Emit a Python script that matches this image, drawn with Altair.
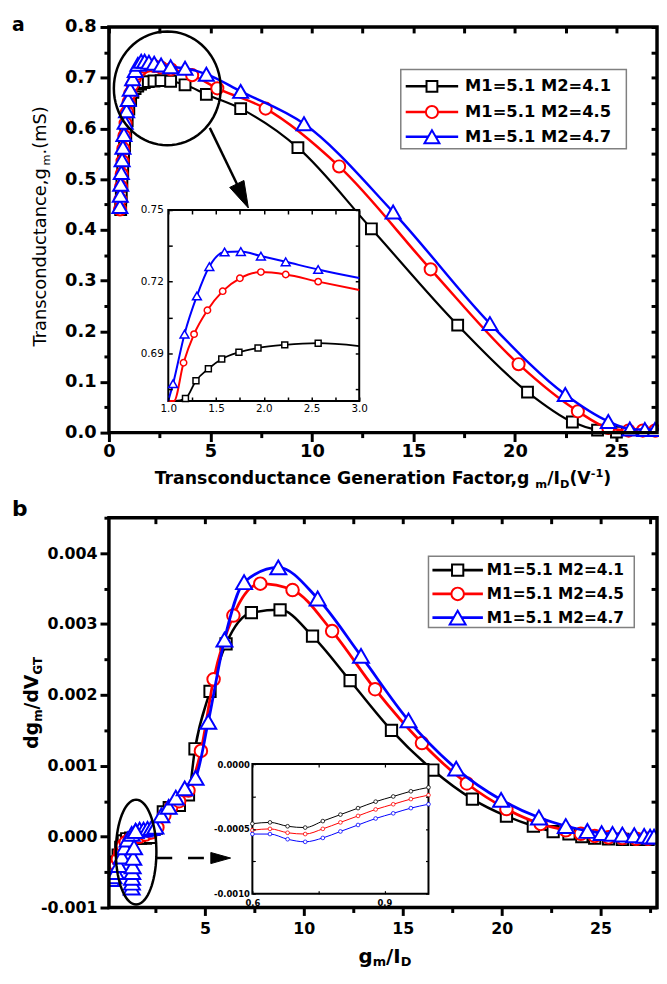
import math
import altair as alt
import pandas as pd

FONT = "DejaVu Sans"
NAMES = ["M1=5.1 M2=4.1", "M1=5.1 M2=4.5", "M1=5.1 M2=4.7"]
COLORS = ["#000000", "#ff0000", "#0000ff"]
SHAPES = ["square", "circle", "triangle-up"]

# ---------------- panel a : transconductance vs gm/ID ----------------
a_black_x = [0.58, 0.61, 0.64, 0.68, 0.72, 0.77, 0.83, 0.90, 0.98, 1.07, 1.18, 1.29, 1.42, 1.56, 1.74,
             1.94, 2.22, 2.57, 3.04, 3.75, 4.80, 6.49, 9.31, 12.93, 17.18, 20.62, 22.83, 24.07, 25.0]
a_black_y = [0.440, 0.465, 0.490, 0.515, 0.540, 0.565, 0.590, 0.615, 0.638, 0.657, 0.671, 0.6785, 0.6835,
             0.6876, 0.6904, 0.6922, 0.6935, 0.6942, 0.6930, 0.686, 0.667, 0.639, 0.562, 0.402, 0.212,
             0.080, 0.021, 0.005, 0.001]
a_red_x = [0.55, 0.57, 0.60, 0.63, 0.67, 0.71, 0.76, 0.82, 0.89, 0.97, 1.06, 1.16, 1.27, 1.41, 1.57, 1.75,
           1.97, 2.23, 2.57, 3.05, 4.10, 5.34, 7.72, 11.34, 15.85, 20.18, 23.10, 24.60, 25.60, 26.30, 26.90]
a_red_y = [0.440, 0.460, 0.485, 0.510, 0.535, 0.560, 0.585, 0.610, 0.632, 0.652, 0.6693, 0.686, 0.698,
           0.708, 0.716, 0.7214, 0.724, 0.723, 0.720, 0.7165, 0.705, 0.679, 0.639, 0.525, 0.322, 0.135,
           0.042, 0.009, 0.004, 0.004, 0.004]
a_blue_x = [0.54, 0.56, 0.58, 0.61, 0.65, 0.69, 0.74, 0.80, 0.87, 0.95, 1.05, 1.17, 1.30, 1.43, 1.59, 1.76,
            1.97, 2.23, 2.57, 3.04, 3.75, 4.80, 6.49, 9.61, 14.00, 18.77, 22.48, 24.60, 25.66, 26.40, 26.90]
a_blue_y = [0.446, 0.468, 0.490, 0.513, 0.538, 0.563, 0.588, 0.612, 0.635, 0.657, 0.6772, 0.698, 0.714,
            0.7263, 0.7324, 0.7326, 0.7307, 0.7283, 0.7251, 0.7215, 0.7185, 0.707, 0.673, 0.609, 0.435,
            0.215, 0.075, 0.022, 0.007, 0.006, 0.006]

a_xticks = [0, 2.5, 5, 7.5, 10, 12.5, 15, 17.5, 20, 22.5, 25]
a_yticks = [0.0, 0.05, 0.1, 0.15, 0.2, 0.25, 0.3, 0.35, 0.4, 0.45, 0.5, 0.55, 0.6, 0.65, 0.7, 0.75, 0.8]
ia_xticks = [1.0, 1.25, 1.5, 1.75, 2.0, 2.25, 2.5, 2.75, 3.0]
ia_yticks = [0.675, 0.69, 0.705, 0.72, 0.735, 0.75]

# ---------------- panel b : dgm/dVGT vs gm/ID ----------------
b_black_x = [0.22, 0.30, 0.40, 0.50, 0.62, 0.75, 0.88, 1.05, 1.25, 1.50, 1.75, 2.00, 2.25, 2.55, 2.90, 3.20,
             3.71, 4.17, 4.50, 5.26, 6.07, 7.35, 8.80, 10.44, 12.34, 14.43, 16.52, 18.52, 20.24, 21.60,
             22.60, 23.40, 24.05, 24.70, 25.40, 26.10, 26.80, 27.40]
b_black_y = [-0.00050, -0.00048, -0.00043, -0.00036, -0.00026, -0.00015, -0.00006, -0.00003, -0.00002,
             -0.00002, -0.00002, -0.00002, -0.00001, 0.00012, 0.00035, 0.00041, 0.00044, 0.00059, 0.00124,
             0.00205, 0.00272, 0.00316, 0.00320, 0.00283, 0.00220, 0.00150, 0.00094, 0.00053, 0.00029,
             0.00015, 0.00007, 0.00004, 0.0, -0.00002, -0.00003, -0.00004, -0.00004, -0.00004]
b_red_x = [0.22, 0.30, 0.40, 0.50, 0.60, 0.72, 0.85, 1.00, 1.20, 1.40, 1.70, 2.00, 2.30, 2.60, 2.95, 3.30,
           3.70, 4.17, 4.80, 5.44, 6.44, 7.80, 9.43, 11.43, 13.60, 15.97, 18.24, 20.24, 21.97, 23.24,
           24.00, 24.70, 25.40, 26.10, 26.80, 27.40]
b_red_y = [-0.00052, -0.00050, -0.00046, -0.00040, -0.00032, -0.00022, -0.00013, -0.00008, -0.00004,
           -0.00002, 0.00000, 0.00003, 0.00006, 0.00013, 0.00030, 0.00042, 0.00050, 0.00065, 0.00121,
           0.00222, 0.00312, 0.00357, 0.00348, 0.00290, 0.00208, 0.00132, 0.00075, 0.00039, 0.00018,
           0.00009, 0.00004, 0.00001, -0.00001, -0.00002, -0.00003, -0.00003]
b_blue_x = [0.27, 0.38, 0.50, 0.65, 0.80, 0.95, 1.10, 1.30, 1.50, 1.70, 1.90, 2.10, 2.30, 2.50, 2.80, 3.17,
            3.53, 3.98, 4.53, 5.17, 5.99, 6.98, 8.71, 10.70, 12.89, 15.29, 17.70, 19.97, 21.88, 23.24,
            24.33, 25.05, 25.60, 26.10, 26.70, 27.20, 27.50, 27.70]
b_blue_y = [-0.00060, -0.00056, -0.00050, -0.00040, -0.00028, -0.00015, -0.00004, 0.00004, 0.00008,
            0.00010, 0.00010, 0.00011, 0.00012, 0.00014, 0.00030, 0.00042, 0.00055, 0.00068, 0.00083,
            0.00162, 0.00278, 0.00359, 0.00380, 0.00336, 0.00255, 0.00164, 0.00096, 0.00052, 0.00027,
            0.00015, 0.00008, 0.00005, 0.00004, 0.00003, 0.00002, 0.00001, 0.00000, 0.00000]
b_blue_branch_x = [1.30, 1.31, 1.32, 1.33, 1.35, 1.38, 1.42, 1.50]
b_blue_branch_y = [-0.00072, -0.00065, -0.00058, -0.00050, -0.00042, -0.00030, -0.00015, 0.00008]

ib_x = [0.60, 0.64, 0.68, 0.72, 0.76, 0.80, 0.84, 0.88, 0.92, 0.96, 1.00]
ib_black = [-0.00046, -0.00045, -0.00048, -0.00049, -0.00044, -0.00039, -0.00034, -0.00029, -0.00025,
            -0.00021, -0.00018]
ib_red = [-0.00051, -0.00050, -0.00053, -0.00054, -0.00050, -0.00045, -0.00040, -0.00035, -0.00031,
          -0.00027, -0.00024]
ib_blue = [-0.00054, -0.00054, -0.00058, -0.00060, -0.00057, -0.00052, -0.00047, -0.00042, -0.00038,
           -0.00034, -0.00031]

b_xticks = [2.5, 5, 7.5, 10, 12.5, 15, 17.5, 20, 22.5, 25, 27.5]
b_yticks = [-0.001, -0.0005, 0.0, 0.0005, 0.001, 0.0015, 0.002, 0.0025, 0.003, 0.0035, 0.004, 0.0045]
ib_xticks = [0.6, 0.75, 0.9]
ib_yticks = [-0.001, -0.00075, -0.0005, -0.00025, 0.0]

# ---------------- layout (pixels, relative to the plotting origin) ----------------
W = 554            # plot width of both panels
HA = 410           # panel a height
B0, B1 = 496, 890  # panel b top / bottom
H = B1

# ---------------- helpers ----------------
ONE = pd.DataFrame({"o": [0]})

W_BOLD = {" ": 348, "(": 457, ")": 457, ",": 380, "-": 415, ".": 380, "/": 365, "0": 696, "1": 696,
          "D": 830, "F": 683, "G": 821, "I": 372, "T": 682, "V": 774, "a": 675, "b": 716, "c": 593,
          "d": 716, "e": 678, "g": 716, "i": 343, "m": 1042, "n": 712, "o": 687, "r": 493, "s": 595,
          "t": 478, "u": 712}
W_REG = {" ": 318, "(": 390, ")": 390, ",": 318, ".": 318, "/": 337, "M": 863, "S": 635, "T": 611,
         "a": 613, "c": 550, "d": 635, "e": 615, "g": 635, "m": 974, "n": 634, "o": 612, "r": 411,
         "s": 521, "t": 392, "u": 634}


def tw(text, size, bold):
    table = W_BOLD if bold else W_REG
    return sum(table.get(ch, 620) for ch in text) * size / 1000.0


def text_layer(text, x, y, size, bold=True, angle=0, align="left", baseline="alphabetic"):
    return alt.Chart(ONE).mark_text(
        text=text, align=align, baseline=baseline, font=FONT, fontSize=size,
        fontWeight="bold" if bold else "normal", angle=angle, color="black"
    ).encode(x=alt.value(x), y=alt.value(y))


def htitle(pieces, cx, by, bold):
    total = sum(tw(t, s, bold) for t, s, _ in pieces)
    x = cx - total / 2
    out = []
    for t, s, dy in pieces:
        out.append(text_layer(t, x, by + dy, s, bold))
        x += tw(t, s, bold)
    return out


def vtitle(pieces, bx, cy, bold):
    total = sum(tw(t, s, bold) for t, s, _ in pieces)
    y = cy + total / 2
    out = []
    for t, s, dx in pieces:
        out.append(text_layer(t, bx + dx, y, s, bold, angle=270))
        y -= tw(t, s, bold)
    return out


def axis(orient, values, expr=None, test=None, major=9, minor=5, size=18, bold=True, pad=3,
         twidth=3, offset=0, z=0):
    kw = dict(orient=orient, values=values, title=None, grid=False, tickColor="black",
              tickWidth=twidth, offset=offset, zindex=z, labelFlush=False, labelOverlap=False,
              minExtent=0, maxExtent=300, domain=False)
    if expr is None:
        kw["labels"] = False
    else:
        kw.update(labelExpr=expr, labelFont=FONT, labelFontSize=size,
                  labelFontWeight="bold" if bold else "normal", labelColor="black", labelPadding=pad)
    if test:
        kw["tickSize"] = {"condition": {"test": test, "value": major}, "value": minor}
    else:
        kw["tickSize"] = major
    return alt.Axis(**kw)


def build_df(xs_list, ys_list, extra=()):
    rows = []
    for k, (xs, ys) in enumerate(zip(xs_list, ys_list)):
        for x, y in zip(xs, ys):
            rows.append({"k": k, "x": x, "y": y, "seg": "main"})
    for k, xs, ys in extra:
        for x, y in zip(xs, ys):
            rows.append({"k": k, "x": x, "y": y, "seg": "branch"})
    return pd.DataFrame(rows)


def series_layers(df, xsc, ysc, sizes, lws, sw, shapes=SHAPES, axes_line=(None, None),
                  axes_pt=(None, None), lfilter=None, pfilter=None, clip=False):
    layers = []
    for k in range(3):
        base = alt.Chart(df).transform_filter(alt.datum.k == k)
        ln = base.transform_filter(lfilter) if lfilter else base
        ax_x, ax_y = axes_line if k == 0 else (None, None)
        layers.append(ln.mark_line(color=COLORS[k], strokeWidth=lws[k], interpolate="monotone",
                                   clip=clip).encode(
            x=alt.X("x:Q", scale=xsc, axis=ax_x), y=alt.Y("y:Q", scale=ysc, axis=ax_y), detail="seg:N"))
        pt = base.transform_filter(pfilter) if pfilter else base
        px_, py_ = axes_pt if k == 0 else (None, None)
        layers.append(pt.mark_point(shape=shapes[k], filled=True, fill="white", stroke=COLORS[k],
                                    strokeWidth=sw, size=sizes[k], opacity=1, clip=clip).encode(
            x=alt.X("x:Q", scale=xsc, axis=px_), y=alt.Y("y:Q", scale=ysc, axis=py_)))
    return layers


def ellipse_path(ratio, n=72):
    pts = []
    for i in range(n):
        t = 2 * math.pi * i / n
        pts.append(f"{ratio * math.cos(t):.4f},{math.sin(t):.4f}")
    return "M" + " L".join(pts) + " Z"


def legend_layers(box, ys, lx0, lx1, tx, fs, sizes, lw, sw):
    x0, x1, y0, y1 = box
    out = [alt.Chart(ONE).mark_rect(fill="white", stroke="#808080", strokeWidth=1.5).encode(
        x=alt.value(x0), x2=alt.value(x1), y=alt.value(y0), y2=alt.value(y1))]
    for k in range(3):
        yy = ys[k]
        out.append(alt.Chart(ONE).mark_rule(color=COLORS[k], strokeWidth=lw).encode(
            x=alt.value(lx0), x2=alt.value(lx1), y=alt.value(yy)))
        out.append(alt.Chart(ONE).mark_point(shape=SHAPES[k], filled=True, fill="white", stroke=COLORS[k],
                                             strokeWidth=sw, size=sizes[k], opacity=1).encode(
            x=alt.value((lx0 + lx1) / 2), y=alt.value(yy)))
        out.append(text_layer(NAMES[k], tx, yy, fs, True, baseline="middle"))
    return out


def pos(xsc, ysc):
    return dict(x=alt.X("x:Q", scale=xsc, axis=None), y=alt.Y("y:Q", scale=ysc, axis=None))


def frame(xsc, ysc, x0, x1, y0, y1, width):
    df = pd.DataFrame({"x": [x0], "x2": [x1], "y": [y0], "y2": [y1]})
    return alt.Chart(df).mark_rect(fill="transparent", stroke="black", strokeWidth=width).encode(
        **pos(xsc, ysc), x2=alt.X2("x2"), y2=alt.Y2("y2"))


# ======================= PANEL A =======================
xs_a = alt.Scale(domain=[0, 27], range=[0, W], nice=False, zero=False)
ys_a = alt.Scale(domain=[0, 0.8], range=[HA, 0], nice=False, zero=False)
df_a = build_df([a_black_x, a_red_x, a_blue_x], [a_black_y, a_red_y, a_blue_y])

ax_a_bottom = axis("bottom", a_xticks, expr="datum.value % 5 === 0 ? datum.label : ''",
                   test="datum.value % 5 === 0", major=9, minor=5, size=18, pad=1, offset=HA - H)
ax_a_left = axis("left", a_yticks,
                 expr="abs(datum.value*10 - round(datum.value*10)) < 0.000001 ? format(datum.value, '.1f') : ''",
                 test="abs(datum.value*10 - round(datum.value*10)) < 0.000001", major=9, minor=5, size=18, pad=4)
ax_a_top = axis("top", a_xticks, major=6, offset=-6)
ax_a_right = axis("right", a_yticks, major=6, offset=-6)

main_a = alt.layer(*series_layers(df_a, xs_a, ys_a, [120, 150, 230], [2.2, 2.5, 2.5], 2,
                                  axes_line=(ax_a_bottom, ax_a_left), axes_pt=(ax_a_top, ax_a_right))
                   ).resolve_axis(x="independent", y="independent")

# inset a (x 1..3, y 0.67..0.75)
IA_L, IA_R, IA_T, IA_B = 60, 253, 185, 378
xs_ia = alt.Scale(domain=[1, 3], range=[IA_L, IA_R], nice=False, zero=False, clamp=True)
ys_ia = alt.Scale(domain=[0.67, 0.75], range=[IA_B, IA_T], nice=False, zero=False, clamp=True)
T_IN = 4
ax_ia_bottom = axis("bottom", ia_xticks,
                    expr="abs(datum.value*2 - round(datum.value*2)) < 0.000001 ? format(datum.value, '.1f') : ''",
                    major=T_IN, size=10.5, bold=False, pad=3, twidth=1.5, offset=(IA_B - H) - T_IN, z=1)
ax_ia_left = axis("left", ia_yticks,
                  expr="abs(datum.value*100 - round(datum.value*100)) < 0.000001 && round(datum.value*100) % 3 === 0 ? format(datum.value, '.2f') : ''",
                  major=T_IN, size=10.5, bold=False, pad=5, twidth=1.5, offset=-(IA_L + T_IN), z=1)
ax_ia_top = axis("top", ia_xticks, major=T_IN, twidth=1.5, offset=-(IA_T + T_IN), z=1)
ax_ia_right = axis("right", ia_yticks, major=T_IN, twidth=1.5, offset=(IA_R - W) - T_IN, z=1)

inset_box_a = pd.DataFrame({"x": [1], "x2": [3], "y": [0.67], "y2": [0.75]})
inset_a = alt.layer(
    alt.Chart(inset_box_a).mark_rect(fill="white", stroke="black", strokeWidth=2).encode(
        x=alt.X("x:Q", scale=xs_ia, axis=ax_ia_bottom), x2=alt.X2("x2"),
        y=alt.Y("y:Q", scale=ys_ia, axis=ax_ia_left), y2=alt.Y2("y2")),
    *series_layers(df_a, xs_ia, ys_ia, [36, 42, 80], [1.8, 2, 2], 1.5,
                   axes_pt=(ax_ia_top, ax_ia_right),
                   lfilter="datum.x >= 0.9 && datum.x <= 3.1",
                   pfilter="datum.x >= 1 && datum.x <= 3 && datum.y >= 0.67 && datum.y <= 0.75")
).resolve_axis(x="independent", y="independent")

a_ell = pd.DataFrame({"x": [2.875], "y": [0.679]})
a_arrow = pd.DataFrame({"x": [4.97], "y": [0.601], "x2": [6.48], "y2": [0.476]})
a_head = pd.DataFrame({"x": [6.87], "y": [0.443]})
deco_a = alt.layer(
    frame(xs_a, ys_a, 0, 27, 0, 0.8, 3.5),
    alt.Chart(a_ell).mark_point(shape=ellipse_path(54 / 57.5), size=115 ** 2, filled=False,
                                stroke="black", strokeWidth=2.5, opacity=1).encode(**pos(xs_a, ys_a)),
    alt.Chart(a_arrow).mark_rule(color="black", strokeWidth=2.5).encode(
        **pos(xs_a, ys_a), x2=alt.X2("x2"), y2=alt.Y2("y2")),
    alt.Chart(a_head).mark_point(shape="M0,0 L-0.63,-0.693 L-0.15,-0.927 Z", size=3600, filled=True,
                                 fill="black", stroke="black", strokeWidth=1, opacity=1).encode(
        **pos(xs_a, ys_a)),
    *legend_layers((295, 523, 43, 123), [60, 86, 111], 300, 353, 360, 16.5, [120, 150, 230], 2.5, 2),
    text_layer("a", -98, 4, 19, True),
    *htitle([("Transconductance Generation Factor,g", 17.5, 0), ("m", 11.5, 4), ("/I", 17.5, 0),
             ("D", 11.5, 4), ("(V", 17.5, 0), ("-1", 11.5, -7), (")", 17.5, 0)], W / 2, 462, True),
    *vtitle([("Transconductance,g", 18, 0), ("m", 11.5, 4), (".(mS)", 18, 0)], -64, 201.5, False),
)

# ======================= PANEL B =======================
xs_b = alt.Scale(domain=[0.15, 27.85], range=[0, W], nice=False, zero=False)
ys_b = alt.Scale(domain=[-0.001, 0.0045], range=[B1, B0], nice=False, zero=False)
df_b = build_df([b_black_x, b_red_x, b_blue_x], [b_black_y, b_red_y, b_blue_y],
                extra=[(2, b_blue_branch_x, b_blue_branch_y)])

ax_b_bottom = axis("bottom", b_xticks, expr="datum.value % 5 === 0 ? datum.label : ''",
                   test="datum.value % 5 === 0", major=8, minor=5, size=16, pad=5)
ax_b_left = axis("left", b_yticks,
                 expr="abs(datum.value*1000 - round(datum.value*1000)) < 0.000001 ? replace(format(datum.value, '.3f'), '\u2212', '-') : ''",
                 test="abs(datum.value*1000 - round(datum.value*1000)) < 0.000001", major=9, minor=5,
                 size=16, pad=3)
ax_b_top = axis("top", b_xticks, major=6, offset=-(B0 + 6))
ax_b_right = axis("right", b_yticks, major=6, offset=-6)

main_b = alt.layer(*series_layers(df_b, xs_b, ys_b, [130, 160, 260], [2.5, 2.8, 2.8], 2,
                                  axes_line=(ax_b_bottom, ax_b_left), axes_pt=(ax_b_top, ax_b_right),
                                  clip=True)
                   ).resolve_axis(x="independent", y="independent")

# inset b (x 0.6..1.0, y -0.001..0)
IB_L, IB_R, IB_T, IB_B = 145, 323, B0 + 249, B0 + 380
xs_ib = alt.Scale(domain=[0.6, 1.0], range=[IB_L, IB_R], nice=False, zero=False)
ys_ib = alt.Scale(domain=[-0.001, 0.0], range=[IB_B, IB_T], nice=False, zero=False)
TB = 3
ax_ib_bottom = axis("bottom", ib_xticks,
                    expr="abs(datum.value - 0.75) < 0.000001 ? '' : format(datum.value, '.1f')",
                    major=TB, size=8.5, bold=True, pad=5, twidth=1.2, offset=(IB_B - H) - TB, z=1)
ax_ib_left = axis("left", ib_yticks,
                  expr="abs(datum.value*2000 - round(datum.value*2000)) < 0.000001 ? replace(format(datum.value, '.4f'), '\u2212', '-') : ''",
                  major=TB, size=8.5, bold=True, pad=3, twidth=1.2, offset=-(IB_L + TB), z=1)
ax_ib_top = axis("top", ib_xticks, major=TB, twidth=1.2, offset=-(IB_T + TB), z=1)
ax_ib_right = axis("right", ib_yticks, major=TB, twidth=1.2, offset=(IB_R - W) - TB, z=1)

df_ib = build_df([ib_x, ib_x, ib_x], [ib_black, ib_red, ib_blue])
inset_box_b = pd.DataFrame({"x": [0.6], "x2": [1.0], "y": [-0.001], "y2": [0.0]})
inset_b = alt.layer(
    alt.Chart(inset_box_b).mark_rect(fill="white", stroke="black", strokeWidth=2).encode(
        x=alt.X("x:Q", scale=xs_ib, axis=ax_ib_bottom), x2=alt.X2("x2"),
        y=alt.Y("y:Q", scale=ys_ib, axis=ax_ib_left), y2=alt.Y2("y2")),
    *series_layers(df_ib, xs_ib, ys_ib, [14, 14, 14], [1, 1, 1], 0.8,
                   shapes=["circle", "circle", "circle"], axes_pt=(ax_ib_top, ax_ib_right))
).resolve_axis(x="independent", y="independent")

b_ell = pd.DataFrame({"x": [1.525], "y": [-0.000218]})
b_arrow = pd.DataFrame({"x": [2.55], "y": [-0.000302], "x2": [5.3], "y2": [-0.000302]})
b_head = pd.DataFrame({"x": [6.3], "y": [-0.000302]})
deco_b = alt.layer(
    frame(xs_b, ys_b, 0.15, 27.85, -0.001, 0.0045, 3.5),
    alt.Chart(b_ell).mark_point(shape=ellipse_path(20.5 / 53), size=106 ** 2, filled=False,
                                stroke="black", strokeWidth=2.5, opacity=1).encode(**pos(xs_b, ys_b)),
    alt.Chart(b_arrow).mark_rule(color="black", strokeWidth=2.5, strokeDash=[16, 16]).encode(
        **pos(xs_b, ys_b), x2=alt.X2("x2"), y2=alt.Y2("y2")),
    alt.Chart(b_head).mark_point(shape="M0,0 L-1,-0.28 L-1,0.28 Z", size=1600, filled=True,
                                 fill="black", stroke="black", strokeWidth=1, opacity=1).encode(
        **pos(xs_b, ys_b)),
    *legend_layers((323, 531, B0 + 39, B0 + 111), [B0 + 53, B0 + 77, B0 + 101], 327, 378, 382, 15.5,
                   [130, 160, 260], 2.8, 2),
    text_layer("b", -98, B0 - 2, 22, True),
    *htitle([("g", 20, 0), ("m", 13, 3), ("/I", 20, 0), ("D", 13, 3)], 279, B0 + 450, True),
    *vtitle([("dg", 19, 0), ("m", 12, 4), ("/dV", 19, 0), ("GT", 12, 4)], -72, B0 + 187, True),
)

chart = alt.layer(main_a, inset_a, deco_a, main_b, inset_b, deco_b).resolve_scale(
    x="independent", y="independent"
).properties(
    width=W, height=H,
    autosize=alt.AutoSizeParams(type="none"),
    padding={"left": 102, "top": 14, "right": 2, "bottom": 62},
).configure_view(stroke="transparent")

chart.save("out.html", embed_options={"renderer": "svg", "actions": False})
